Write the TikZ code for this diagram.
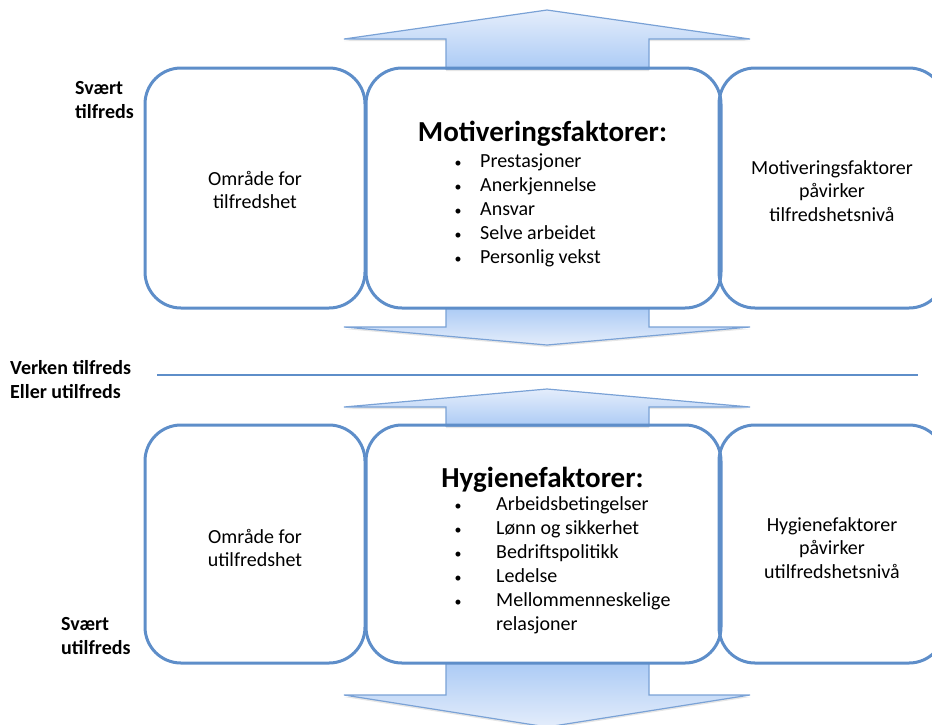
\documentclass[tikz,border=0pt]{standalone}
\usepackage{fontspec}
\setmainfont{Carlito}
\usetikzlibrary{shadows}

\definecolor{boxblue}{RGB}{94,142,201}
\definecolor{pilkant}{RGB}{122,162,214}
\definecolor{pillys}{RGB}{228,237,251}
\definecolor{pilmork}{RGB}{172,203,245}
\newcommand{\punkt}{\makebox[10pt]{\fontsize{14}{14}\selectfont\textbullet}}

\begin{document}
\begin{tikzpicture}[x=1pt, y=-1pt,
    felt/.style={draw=boxblue, line width=3pt, rounded corners=36pt},
    tekst/.style={align=center, inner sep=0pt, font=\fontsize{20}{23.5}\selectfont},
    nivaa/.style={anchor=base west, align=left, inner sep=0pt,
                  font=\bfseries\fontsize{20}{23.5}\selectfont},
    tittel/.style={anchor=base, inner sep=0pt, font=\bfseries\fontsize{29}{32}\selectfont},
    liste/.style={anchor=base west, inner sep=0pt, font=\fontsize{20}{24}\selectfont},
    pil/.style={draw=pilkant, line width=1.2pt,
                drop shadow={shadow xshift=0pt, shadow yshift=-2pt, opacity=0.2}}]
    \useasboundingbox (0,0) rectangle (932,724);
    \clip (0,0) rectangle (932,724);

    %the big arrows
    \foreach \spiss/\fot/\hale/\fra/\til in {10/39/69/pillys/pilmork,
                                             389/407/426/pillys/pilmork,
                                             345/327/308/pilmork/pillys,
                                             727/695/663/pilmork/pillys}
        \path[pil, top color=\fra, bottom color=\til]
            (446,\hale) -- (446,\fot) -- (344,\fot) -- (547,\spiss)
            -- (750,\fot) -- (649,\fot) -- (649,\hale) -- cycle;

    %define the boxes
    \node[felt, minimum width=220, minimum height=240] (tilfredsomr) at (255,188) {};
    \node[felt, minimum width=355, minimum height=240] (motivbox) at (543.5,188) {};
    \node[felt, minimum width=226, minimum height=240] (motivvirk) at (832,188) {};
    \node[felt, minimum width=220, minimum height=238] (utilfredsomr) at (255,544) {};
    \node[felt, minimum width=355, minimum height=238] (hygienebox) at (543.5,544) {};
    \node[felt, minimum width=226, minimum height=238] (hygienevirk) at (832,544) {};

    %the texts in the boxes
    \node[tekst] (tilfredstekst) at ([yshift=-2pt]tilfredsomr.center) {Område for\\tilfredshet};
    \node[tekst] (motivvirktekst) at ([yshift=-3pt]motivvirk.center) {Motiveringsfaktorer\\påvirker\\tilfredshetsnivå};
    \node[tekst] (utilfredstekst) at ([yshift=-4pt]utilfredsomr.center) {Område for\\utilfredshet};
    \node[tekst] (hygienevirktekst) at ([yshift=-4pt]hygienevirk.center) {Hygienefaktorer\\påvirker\\utilfredshetsnivå};

    %the lists
    \node[tittel] (motivtittel) at (542.5,141) {Motiveringsfaktorer:};
    \node[liste] (motivliste) at (453,167) {\begin{tabular}[t]{@{}l@{\hspace{17pt}}l@{}}
        \punkt & Prestasjoner\\
        \punkt & Anerkjennelse\\
        \punkt & Ansvar\\
        \punkt & Selve arbeidet\\
        \punkt & Personlig vekst
    \end{tabular}};
    \node[tittel] (hygienetittel) at (542.5,487) {Hygienefaktorer:};
    \node[liste] (hygieneliste) at (453,510) {\begin{tabular}[t]{@{}l@{\hspace{33pt}}l@{}}
        \punkt & Arbeidsbetingelser\\
        \punkt & Lønn og sikkerhet\\
        \punkt & Bedriftspolitikk\\
        \punkt & Ledelse\\
        \punkt & Mellommenneskelige\\
        & relasjoner
    \end{tabular}};

    %the levels
    \node[nivaa] (sv-tilfreds) at (75,118) {Svært\\tilfreds};
    \node[nivaa] (verken) at (10,398) {Verken tilfreds\\Eller utilfreds};
    \node[nivaa] (sv-utilfreds) at (61,654) {Svært\\utilfreds};
    \coordinate (nivaa-v) at (157,375);
    \coordinate (nivaa-h) at (918,375);
    \draw[boxblue, line width=2.5pt] (nivaa-v) -- (nivaa-h);
\end{tikzpicture}
\end{document}
